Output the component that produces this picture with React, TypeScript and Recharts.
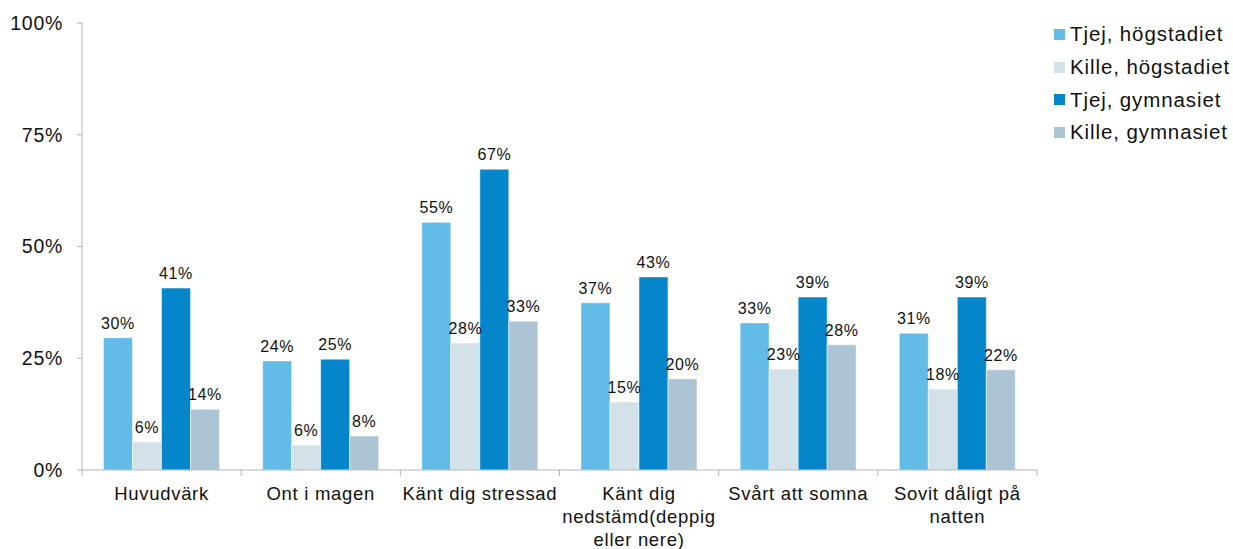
import { BarChart, Bar, XAxis, YAxis, LabelList } from 'recharts';

const categories = [
  'Huvudvärk',
  'Ont i magen',
  'Känt dig stressad',
  'Känt dig nedstämd(deppig eller nere)',
  'Svårt att somna',
  'Sovit dåligt på natten',
];

// how the category labels wrap under the axis
const categoryLines = [
  ['Huvudvärk'],
  ['Ont i magen'],
  ['Känt dig stressad'],
  ['Känt dig', 'nedstämd(deppig', 'eller nere)'],
  ['Svårt att somna'],
  ['Sovit dåligt på', 'natten'],
];

const tjejHogstadiet = [29.6, 24.4, 55.4, 37.4, 32.9, 30.6];
const killeHogstadiet = [6.3, 5.6, 28.4, 15.2, 22.6, 18.1];
const tjejGymnasiet = [40.7, 24.8, 67.3, 43.2, 38.7, 38.7];
const killeGymnasiet = [13.6, 7.6, 33.3, 20.4, 28.0, 22.4];

const yTicks = [0, 25, 50, 75, 100];

const series = [
  { key: 'th', name: 'Tjej, högstadiet', color: '#63bbe8' },
  { key: 'kh', name: 'Kille, högstadiet', color: '#d3e1e8' },
  { key: 'tg', name: 'Tjej, gymnasiet', color: '#0686ca' },
  { key: 'kg', name: 'Kille, gymnasiet', color: '#adc4d4' },
];

const data = categories.map((c, i) => ({
  name: c,
  th: tjejHogstadiet[i],
  kh: killeHogstadiet[i],
  tg: tjejGymnasiet[i],
  kg: killeGymnasiet[i],
}));

const W = 1233;
const H = 549;
const xAxisHeight = 30;
const margin = { top: 23, right: 196, left: 0, bottom: 79 - xAxisHeight };
const yAxisWidth = 82;
const step = (W - margin.left - margin.right - yAxisWidth) / categories.length;
const font = '"Liberation Sans", Arial, sans-serif';
const axisColor = '#b5b5b5';

function CategoryTick(props: any) {
  const { x, y, index } = props;
  const lines = categoryLines[index] || [];
  return (
    <g>
      {index === 0 && (
        <line x1={x - step / 2} x2={x - step / 2} y1={y - 8} y2={y - 2} stroke={axisColor} />
      )}
      <line x1={x + step / 2} x2={x + step / 2} y1={y - 8} y2={y - 2} stroke={axisColor} />
      <text
        x={x}
        y={y + 22}
        textAnchor="middle"
        fontSize={18.5}
        fontFamily={font}
        letterSpacing={0.7}
        fill="#111"
      >
        {lines.map((l, i) => (
          <tspan key={i} x={x} dy={i === 0 ? 0 : 23}>
            {l}
          </tspan>
        ))}
      </text>
    </g>
  );
}

function LegendBox() {
  return (
    <div
      style={{
        position: 'absolute',
        left: 1054,
        top: 18,
        fontFamily: font,
        fontSize: 20.5,
        letterSpacing: 0.9,
        color: '#111',
        whiteSpace: 'nowrap',
      }}
    >
      {series.map((s) => (
        <div key={s.key} style={{ display: 'flex', alignItems: 'center', height: 32.7 }}>
          <span style={{ width: 11, height: 11, background: s.color, marginRight: 5, display: 'inline-block' }} />
          {s.name}
        </div>
      ))}
    </div>
  );
}

export default function App() {
  return (
    <div style={{ position: 'absolute', left: 0, top: 0, width: W, height: H, background: '#fff' }}>
      <BarChart width={W} height={H} data={data} margin={margin} barGap={0} barCategoryGap="13.5%">
        <XAxis
          dataKey="name"
          interval={0}
          height={xAxisHeight}
          tickLine={false}
          axisLine={{ stroke: axisColor }}
          tick={<CategoryTick />}
        />
        <YAxis
          width={yAxisWidth}
          domain={[0, 100]}
          ticks={yTicks}
          tickFormatter={(v: number) => `${v}%`}
          tickSize={5}
          tickMargin={14}
          axisLine={{ stroke: axisColor }}
          tickLine={{ stroke: axisColor }}
          tick={{ fontSize: 19.5, fontFamily: font, fill: '#111', letterSpacing: 0.7 }}
        />
        {series.map((s) => (
          <Bar key={s.key} dataKey={s.key} name={s.name} fill={s.color} stroke="#fff" strokeWidth={0.5} isAnimationActive={false}>
            <LabelList
              dataKey={s.key}
              position="top"
              offset={9}
              formatter={(v: any) => `${Math.round(Number(v))}%`}
              style={{ fontSize: 16, fontFamily: font, fill: '#111', letterSpacing: 0.6 }}
            />
          </Bar>
        ))}
      </BarChart>
      <LegendBox />
    </div>
  );
}
